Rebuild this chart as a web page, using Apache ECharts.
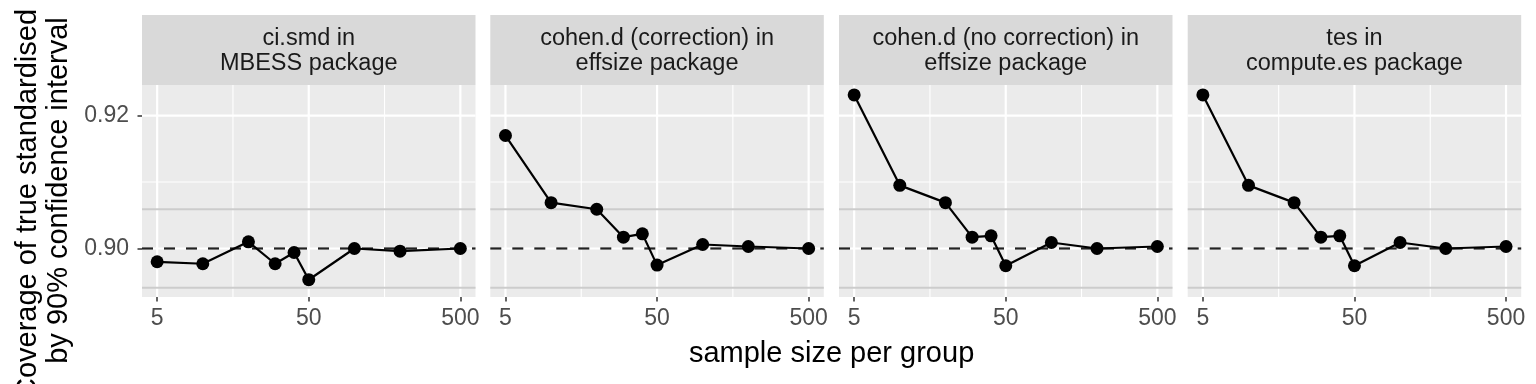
<!DOCTYPE html>
<html>
<head>
<meta charset="utf-8">
<script src="https://cdn.jsdelivr.net/npm/echarts@6/dist/echarts.min.js"></script>
<style>
  html, body { margin: 0; padding: 0; background: #ffffff; }
  #chart { width: 1536px; height: 384px; }
</style>
</head>
<body>
<div id="chart"></div>
<script>
// ---------------- data ----------------
const sampleSizes = [5, 10, 20, 30, 40, 50, 100, 200, 500];
const panelTitles = [
  "ci.smd in\nMBESS package",
  "cohen.d (correction) in\neffsize package",
  "cohen.d (no correction) in\neffsize package",
  "tes in\ncompute.es package"
];
const coverageMBESS        = [0.8980, 0.8977, 0.9010, 0.8977, 0.8994, 0.8953, 0.9000, 0.8996, 0.9000];
const coverageEffsizeCorr   = [0.9170, 0.9069, 0.9059, 0.9017, 0.9022, 0.8975, 0.9006, 0.9003, 0.9000];
const coverageEffsizeNoCorr = [0.9231, 0.9095, 0.9069, 0.9017, 0.9019, 0.8974, 0.9009, 0.9000, 0.9003];
const coverageComputeEs     = [0.9231, 0.9095, 0.9069, 0.9017, 0.9019, 0.8974, 0.9009, 0.9000, 0.9003];
const xTickLabels = [5, 50, 500];
const yTickLabels = [0.90, 0.92];
const nominalCoverage = 0.90;
const mcBand = [0.8941, 0.9059];
const xTitle = "sample size per group";
const yTitleLines = ["Coverage of true standardised", "by 90% confidence interval"];

// ---------------- layout ----------------
const panelSeries = [coverageMBESS, coverageEffsizeCorr, coverageEffsizeNoCorr, coverageComputeEs];
const panelLeft = [142, 490.3, 839, 1187.7];
const panelWidth = 333.5;
const panelTop = 85;
const panelHeight = 212;
const stripTop = 15;
const stripHeight = 70;
const FONT = "Liberation Sans";
const TICK_FS = 23;

const xMin = 5 / Math.pow(10, 0.1), xMax = 500 * Math.pow(10, 0.1);
const yMin = 0.8927, yMax = 0.9246;

// minor breaks as in ggplot (midpoints in transformed space)
const xMinor = [];
for (let i = 0; i < xTickLabels.length - 1; i++) xMinor.push(Math.sqrt(xTickLabels[i] * xTickLabels[i + 1]));
const yMinor = [];
for (let i = 0; i < yTickLabels.length - 1; i++) yMinor.push((yTickLabels[i] + yTickLabels[i + 1]) / 2);

const grids = [], xAxes = [], yAxes = [], series = [], graphics = [];

function hLine(p, v, style, z) {
  return { type: 'line', xAxisIndex: p, yAxisIndex: p, z: z, silent: true, symbol: 'none',
           data: [[xMin, v], [xMax, v]], lineStyle: style, animation: false };
}
function vLine(p, v, style, z) {
  return { type: 'line', xAxisIndex: p, yAxisIndex: p, z: z, silent: true, symbol: 'none',
           data: [[v, yMin], [v, yMax]], lineStyle: style, animation: false };
}

panelSeries.forEach((vals, p) => {
  grids.push({
    left: panelLeft[p], top: panelTop, width: panelWidth, height: panelHeight,
    show: true, backgroundColor: '#EBEBEB', borderWidth: 0
  });
  xAxes.push({
    type: 'log', logBase: 10, gridIndex: p, min: xMin, max: xMax,
    axisLine: { show: false },
    axisTick: { show: true, customValues: xTickLabels, length: 4.5, lineStyle: { color: '#333333', width: 1.5 } },
    axisLabel: { show: true, customValues: xTickLabels, color: '#4D4D4D', fontSize: TICK_FS, fontFamily: FONT, margin: 10,
                 formatter: v => String(Math.round(v)) },
    splitLine: { show: false }, minorSplitLine: { show: false }
  });
  yAxes.push({
    type: 'value', gridIndex: p, min: yMin, max: yMax,
    axisLine: { show: false },
    axisTick: { show: p === 0, customValues: yTickLabels, length: 4.5, lineStyle: { color: '#333333', width: 1.5 } },
    axisLabel: { show: p === 0, customValues: yTickLabels, color: '#4D4D4D', fontSize: TICK_FS, fontFamily: FONT, margin: 13,
                 formatter: v => v.toFixed(2) },
    splitLine: { show: false }
  });

  const minorStyle = { color: '#FFFFFF', width: 1.1, type: 'solid' };
  const majorStyle = { color: '#FFFFFF', width: 2.2, type: 'solid' };
  xMinor.forEach(v => series.push(vLine(p, v, minorStyle, 1)));
  yMinor.forEach(v => series.push(hLine(p, v, minorStyle, 1)));
  xTickLabels.forEach(v => series.push(vLine(p, v, majorStyle, 1)));
  yTickLabels.forEach(v => series.push(hLine(p, v, majorStyle, 1)));

  mcBand.forEach(v => series.push(hLine(p, v, { color: '#CCCCCC', width: 2, type: 'solid' }, 2)));
  series.push(hLine(p, nominalCoverage, { color: '#222222', width: 2.2, type: [11, 11] }, 2));

  series.push({
    type: 'line', xAxisIndex: p, yAxisIndex: p, z: 3,
    data: sampleSizes.map((n, i) => [n, vals[i]]),
    symbol: 'circle', symbolSize: 13, showAllSymbol: true,
    lineStyle: { color: '#000000', width: 2.2 },
    itemStyle: { color: '#000000' },
    animation: false
  });

  // strip
  graphics.push({
    type: 'rect', shape: { x: panelLeft[p], y: stripTop, width: panelWidth, height: stripHeight },
    style: { fill: '#D9D9D9' }, silent: true
  });
  graphics.push({
    type: 'text', x: panelLeft[p] + panelWidth / 2, y: stripTop + stripHeight / 2 + 1,
    style: { text: panelTitles[p], fill: '#1A1A1A', font: '23.5px "' + FONT + '"', align: 'center',
             verticalAlign: 'middle', lineHeight: 25.5 }, silent: true
  });
});

graphics.push({
  type: 'text', x: (panelLeft[0] + panelLeft[3] + panelWidth) / 2, y: 354,
  style: { text: xTitle, fill: '#000000', font: '29px "' + FONT + '"', align: 'center', verticalAlign: 'middle' },
  silent: true
});
graphics.push({
  type: 'text', x: 28, y: 204, rotation: Math.PI / 2,
  style: { text: yTitleLines[0], fill: '#000000', font: '29px "' + FONT + '"', align: 'center', verticalAlign: 'middle' },
  silent: true
});
graphics.push({
  type: 'text', x: 59, y: 190.5, rotation: Math.PI / 2,
  style: { text: yTitleLines[1], fill: '#000000', font: '29px "' + FONT + '"', align: 'center', verticalAlign: 'middle' },
  silent: true
});

const chart = echarts.init(document.getElementById('chart'), null, { renderer: 'canvas' });
chart.setOption({
  animation: false,
  backgroundColor: '#FFFFFF',
  grid: grids, xAxis: xAxes, yAxis: yAxes, series: series,
  graphic: { elements: graphics }
});
</script>
</body>
</html>
